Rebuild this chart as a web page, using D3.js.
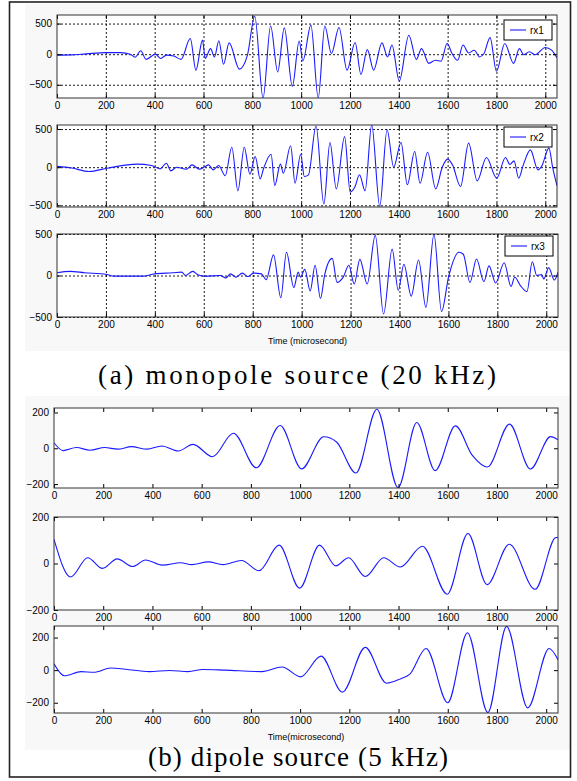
<!DOCTYPE html>
<html>
<head>
<meta charset="utf-8">
<script src="https://cdn.jsdelivr.net/npm/d3@7"></script>
<style>
  body { margin: 0; background: #fff; }
  .tick text, .lbl { font-family: 'Liberation Sans Narrow', 'Arial Narrow', 'Liberation Sans', sans-serif; font-size: 10px; fill: #000; }
  .caption { font-family: 'Liberation Serif', 'Times New Roman', serif; fill: #000; }
</style>
</head>
<body>
<div id="wrapper"></div>
<script>
// tick values
const xTicks = [0, 200, 400, 600, 800, 1000, 1200, 1400, 1600, 1800, 2000];
const monoYTicks = [-500, 0, 500];
const dipYTicks = [-200, 0, 200];

// (a) monopole source, receivers rx1..rx3  [time, amplitude]
const rx1 = [[0,-15],[60,-12],[120,5],[200,25],[260,25],[300,0],[320,-50],[343,55],[365,-85],[403,0],[425,-70],[448,-15],[478,-30],[508,-85],[546,255],[569,-260],[596,230],[607,-70],[629,90],[645,-45],[663,220],[682,-165],[705,185],[747,-245],[780,-15],[810,620],[844,-716],[875,460],[904,-290],[931,430],[964,-525],[992,215],[1007,-110],[1040,475],[1070,-716],[1097,460],[1124,10],[1155,435],[1188,-260],[1221,190],[1245,-330],[1271,75],[1297,-260],[1331,185],[1354,-45],[1372,150],[1402,-440],[1441,310],[1472,-85],[1493,90],[1523,-150],[1550,-100],[1573,-115],[1598,175],[1618,10],[1641,-100],[1663,150],[1686,20],[1709,65],[1731,-45],[1749,10],[1774,270],[1800,-280],[1834,175],[1870,-150],[1894,90],[1912,-10],[1935,40],[1958,-10],[2000,110],[2026,65],[2048,-60]];
const rx2 = [[0,10],[60,-10],[131,-57],[206,-13],[327,40],[387,22],[422,-22],[448,52],[466,-48],[490,0],[530,-26],[553,30],[583,-26],[605,5],[621,30],[640,-35],[662,22],[689,-113],[716,262],[741,-310],[767,262],[790,-92],[812,140],[832,-153],[847,-10],[877,170],[892,-240],[915,40],[927,-79],[957,280],[975,-210],[998,170],[1013,-122],[1030,-100],[1061,540],[1093,-485],[1118,323],[1144,-284],[1178,400],[1201,-327],[1220,-260],[1239,-100],[1262,-310],[1289,555],[1322,-515],[1352,490],[1379,0],[1409,323],[1435,-230],[1465,205],[1487,-210],[1518,196],[1551,-284],[1578,0],[1600,105],[1620,30],[1653,-253],[1686,315],[1721,-180],[1759,127],[1801,-144],[1837,127],[1855,35],[1872,83],[1891,-144],[1910,30],[1939,227],[1970,-35],[1985,10],[2015,250],[2030,0],[2048,-245]];
const rx3 = [[0,33],[53,50],[113,33],[203,12],[233,-8],[353,-8],[398,20],[473,33],[510,41],[525,0],[555,50],[578,5],[600,-8],[668,0],[690,-29],[710,20],[731,-20],[758,29],[780,-12],[803,29],[836,20],[855,-50],[885,248],[915,-268],[938,280],[968,-145],[986,41],[995,-20],[1013,74],[1035,-186],[1055,124],[1077,-277],[1095,20],[1125,206],[1145,-83],[1170,-20],[1193,124],[1215,-103],[1238,194],[1268,-103],[1301,483],[1335,-463],[1370,318],[1395,-178],[1418,136],[1448,-248],[1478,186],[1508,-384],[1541,496],[1572,-434],[1601,-12],[1643,281],[1661,256],[1688,-83],[1715,198],[1745,-74],[1766,116],[1793,-91],[1828,153],[1856,-132],[1871,-21],[1895,-124],[1921,-194],[1943,165],[1961,0],[1981,12],[1990,-41],[2010,95],[2033,-54],[2048,41]];

// (b) dipole source, three receivers
const dip1 = [[0,31],[37,-13],[91,4],[146,-11],[206,4],[259,-5],[315,9],[378,-5],[438,13],[505,-15],[565,22],[644,-47],[729,84],[822,-109],[919,127],[1006,-115],[1096,64],[1148,35],[1227,-138],[1312,218],[1398,-220],[1474,144],[1549,-125],[1631,125],[1700,-40],[1761,-105],[1851,135],[1936,-116],[2018,65],[2048,47]];
const dip2 = [[0,104],[68,-58],[137,25],[197,-21],[257,20],[320,-13],[372,15],[440,-7],[515,3],[560,-5],[627,7],[687,-5],[762,13],[833,-31],[915,79],[998,-106],[1079,79],[1145,-10],[1197,25],[1265,-56],[1340,25],[1407,-15],[1497,74],[1598,-132],[1682,129],[1760,-91],[1850,83],[1955,-111],[2040,112],[2048,112]];
const dip3 = [[0,39],[42,-34],[110,-9],[162,-13],[230,13],[290,6],[387,-9],[470,-2],[545,-9],[605,4],[695,0],[845,-9],[927,19],[1002,-41],[1085,86],[1172,-135],[1265,140],[1351,-80],[1407,-54],[1445,-26],[1512,133],[1600,-200],[1680,230],[1763,-260],[1839,269],[1925,-232],[2012,133],[2048,64]];

const legendNames = ["rx1", "rx2", "rx3"];
const captions = ["(a) monopole source (20 kHz)", "(b) dipole source (5 kHz)"];
const xLabels = ["Time (microsecond)", "Time(microsecond)"];

const width = 577, height = 781;
const svg = d3.select("#wrapper").append("svg")
  .attr("width", width).attr("height", height);

// figure backgrounds + outer frame
svg.append("rect").attr("x", 25).attr("y", 4).attr("width", 545).attr("height", 347).attr("fill", "#f8f8f8");
svg.append("rect").attr("x", 25).attr("y", 396).attr("width", 545).attr("height", 354).attr("fill", "#f8f8f8");
svg.append("rect").attr("x", 9.5).attr("y", 2).attr("width", 561).attr("height", 775)
  .attr("fill", "none").attr("stroke", "#222").attr("stroke-width", 1.6);

const panels = [
  { data: rx1, x0: 57, x1: 557, y0: 15, y1: 98, yDom: [-716, 640], yTicks: monoYTicks, grid: true, legend: legendNames[0], legTop: 5 },
  { data: rx2, x0: 57, x1: 557, y0: 125, y1: 207, yDom: [-522, 553], yTicks: monoYTicks, grid: true, legend: legendNames[1], legTop: 2 },
  { data: rx3, x0: 57, x1: 558, y0: 234, y1: 317, yDom: [-500, 500], yTicks: monoYTicks, grid: true, legend: legendNames[2], legTop: 2, xlabel: xLabels[0] },
  { data: dip1, x0: 54, x1: 558, y0: 408, y1: 488, yDom: [-222, 225], yTicks: dipYTicks, grid: false },
  { data: dip2, x0: 54, x1: 558, y0: 517, y1: 610, yDom: [-200, 200], yTicks: dipYTicks, grid: false },
  { data: dip3, x0: 54, x1: 558, y0: 626, y1: 713, yDom: [-263, 271], yTicks: dipYTicks, grid: false, xlabel: xLabels[1] },
];

const fmt = d3.format("d");

panels.forEach((p, i) => {
  const x = d3.scaleLinear().domain([0, 2048]).range([p.x0, p.x1]);
  const y = d3.scaleLinear().domain(p.yDom).range([p.y1, p.y0]);
  const w = p.x1 - p.x0, h = p.y1 - p.y0;
  const g = svg.append("g");

  g.append("rect").attr("x", p.x0).attr("y", p.y0).attr("width", w).attr("height", h).attr("fill", "#fff");

  if (p.grid) {
    const gx = g.append("g").attr("transform", `translate(0,${p.y1})`)
      .call(d3.axisBottom(x).tickValues(xTicks.filter(t => t > 0)).tickSize(-h).tickFormat(""));
    const gy = g.append("g").attr("transform", `translate(${p.x0},0)`)
      .call(d3.axisLeft(y).tickValues(p.yTicks).tickSize(-w).tickFormat(""));
    [gx, gy].forEach(a => {
      a.select(".domain").remove();
      a.selectAll("line").attr("stroke", "#000").attr("stroke-width", 0.9).attr("stroke-dasharray", "2,2");
    });
  }

  // curve
  const clipId = `clip${i}`;
  svg.append("clipPath").attr("id", clipId).append("rect")
    .attr("x", p.x0).attr("y", p.y0).attr("width", w).attr("height", h);
  const line = d3.line().x(d => x(d[0])).y(d => y(d[1])).curve(d3.curveMonotoneX);
  g.append("path").datum(p.data).attr("d", line)
    .attr("clip-path", `url(#${clipId})`)
    .attr("fill", "none").attr("stroke", "#1a1aff").attr("stroke-width", 1.1);

  // axes with inward ticks
  const ax = g.append("g").attr("transform", `translate(0,${p.y1})`)
    .call(d3.axisBottom(x).tickValues(xTicks).tickSize(-4).tickPadding(4).tickFormat(fmt));
  const axTop = g.append("g").attr("transform", `translate(0,${p.y0})`)
    .call(d3.axisTop(x).tickValues(xTicks).tickSize(-4).tickFormat(""));
  const ay = g.append("g").attr("transform", `translate(${p.x0},0)`)
    .call(d3.axisLeft(y).tickValues(p.yTicks).tickSize(-4).tickPadding(5).tickFormat(fmt));
  const ayR = g.append("g").attr("transform", `translate(${p.x1},0)`)
    .call(d3.axisRight(y).tickValues(p.yTicks).tickSize(-4).tickFormat(""));
  [ax, axTop, ay, ayR].forEach(a => {
    a.select(".domain").remove();
    a.selectAll("line").attr("stroke", "#000");
  });

  g.append("rect").attr("x", p.x0).attr("y", p.y0).attr("width", w).attr("height", h)
    .attr("fill", "none").attr("stroke", "#333").attr("stroke-width", 1);

  if (p.legend) {
    const lw = 48, lh = 20;
    const lx = p.x1 - lw - 5, ly = p.y0 + p.legTop;
    const lg = g.append("g").attr("transform", `translate(${lx},${ly})`);
    lg.append("rect").attr("width", lw).attr("height", lh).attr("fill", "#fff").attr("stroke", "#000").attr("stroke-width", 1);
    lg.append("line").attr("x1", 6).attr("x2", 22).attr("y1", lh / 2).attr("y2", lh / 2)
      .attr("stroke", "#1a1aff").attr("stroke-width", 1.1);
    lg.append("text").attr("class", "lbl").attr("x", 26).attr("y", lh / 2).attr("dy", "0.35em").text(p.legend);
  }

  if (p.xlabel) {
    g.append("text").attr("class", "lbl").style("font-size", "9px")
      .attr("x", (p.x0 + p.x1) / 2).attr("y", p.y1 + 27).attr("text-anchor", "middle").text(p.xlabel);
  }
});

// captions
svg.append("text").attr("class", "caption").attr("x", 297).attr("y", 384)
  .attr("text-anchor", "middle").style("font-size", "27px")
  .attr("textLength", 398).attr("lengthAdjust", "spacing").text(captions[0]);
svg.append("text").attr("class", "caption").attr("x", 298).attr("y", 766)
  .attr("text-anchor", "middle").style("font-size", "27px")
  .attr("textLength", 300).attr("lengthAdjust", "spacing").text(captions[1]);
</script>
</body>
</html>
